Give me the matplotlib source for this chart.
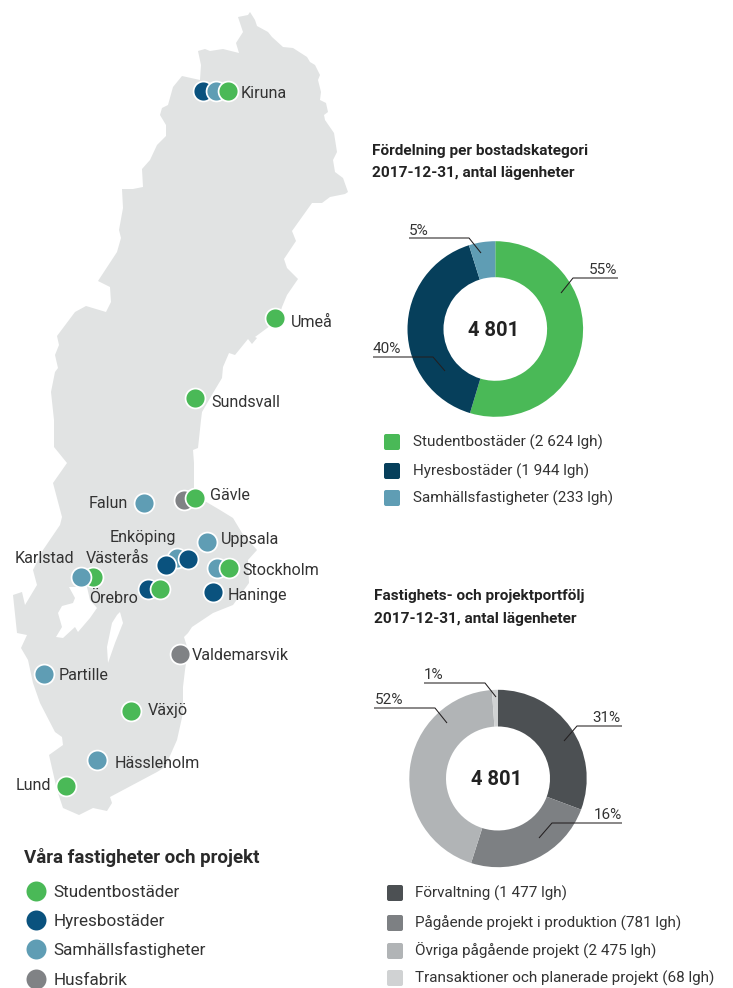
import matplotlib
matplotlib.use('Agg')
import matplotlib.pyplot as plt
from matplotlib.patches import Polygon, FancyBboxPatch

W, H = 733, 988

# ===== DATA =====
# wedge shares as drawn in the picture (second donut is not drawn to its printed labels)
housing_labels = ['Studentbostäder (2 624 lgh)', 'Hyresbostäder (1 944 lgh)', 'Samhällsfastigheter (233 lgh)']
housing_values = [2624, 1944, 233]
housing_pct = ['55%', '40%', '5%']

portfolio_labels = ['Förvaltning (1 477 lgh)', 'Pågående projekt i produktion (781 lgh)',
                    'Övriga pågående projekt (2 475 lgh)', 'Transaktioner och planerade projekt (68 lgh)']
portfolio_shares = [30.7, 24.2, 44.0, 1.1]
portfolio_pct = ['31%', '16%', '52%', '1%']

legend_names = ['Studentbostäder', 'Hyresbostäder', 'Samhällsfastigheter', 'Husfabrik']

# map sites: x, y on the map picture, category index into legend_names
site_x = [203, 216, 228, 275, 195, 184, 195, 144, 207, 217, 229, 177, 166, 188, 93, 81, 148, 160, 213, 180, 44, 131, 97, 66]
site_y = [91, 91, 91, 318, 398, 500, 498, 503, 542, 568, 568, 558, 565, 559, 577, 577, 589, 589, 592, 654, 674, 711, 760, 786]
site_cat = [1, 2, 0, 0, 0, 3, 0, 2, 2, 2, 0, 2, 1, 1, 0, 2, 1, 0, 1, 3, 2, 0, 2, 0]

city_names = ['Kiruna', 'Umeå', 'Sundsvall', 'Gävle', 'Falun', 'Enköping', 'Uppsala', 'Karlstad', 'Västerås',
              'Stockholm', 'Örebro', 'Haninge', 'Valdemarsvik', 'Partille', 'Växjö', 'Hässleholm', 'Lund']
city_x = [241, 291, 211, 210, 89, 110, 221, 15, 86, 242, 89, 228, 192, 59, 148, 115, 16]
city_y = [98, 327, 407, 500, 508, 542, 544, 563, 563, 575, 603, 600, 660, 680, 715, 768, 790]

sweden = [(250, 12), (255, 20), (257, 26), (268, 32), (272, 37), (283, 47), (293, 48), (307, 57), (310, 62),
          (315, 65), (320, 75), (318, 80), (321, 92), (320, 100), (326, 103), (328, 112), (324, 115), (325, 120),
          (334, 133), (337, 152), (333, 160), (335, 172), (343, 178), (348, 192), (345, 194), (330, 197),
          (322, 203), (312, 203), (292, 231), (296, 241), (284, 259), (287, 268), (298, 279), (287, 295),
          (282, 307), (278, 320), (255, 337), (257, 338), (252, 344), (248, 339), (235, 355), (229, 353),
          (223, 367), (222, 378), (213, 393), (202, 412), (201, 420), (198, 448), (193, 450), (194, 463),
          (194, 490), (203, 500), (220, 510), (233, 518), (242, 533), (257, 550), (248, 560), (249, 583),
          (233, 605), (213, 613), (192, 627), (188, 633), (184, 637), (188, 650), (185, 670), (183, 687),
          (183, 713), (177, 740), (165, 767), (157, 772), (110, 797), (112, 803), (107, 811), (93, 808),
          (79, 815), (63, 808), (57, 790), (49, 755), (63, 745), (62, 737), (55, 732), (40, 703), (33, 683),
          (28, 660), (21, 648), (27, 635), (17, 633), (13, 595), (22, 592), (25, 605), (37, 585), (33, 570),
          (43, 550), (60, 525), (62, 517), (53, 483), (67, 463), (54, 447), (54, 420), (51, 392), (55, 372),
          (58, 368), (55, 355), (59, 345), (57, 336), (75, 312), (86, 306), (106, 312), (111, 302), (110, 287),
          (98, 281), (117, 252), (121, 238), (119, 230), (123, 208), (122, 189), (133, 189), (143, 187),
          (142, 169), (150, 160), (157, 145), (166, 136), (166, 125), (160, 115), (162, 108), (168, 105),
          (173, 87), (182, 76), (200, 80), (201, 65), (198, 51), (205, 49), (210, 51), (223, 49), (239, 53),
          (236, 43), (243, 32), (238, 17), (248, 15)]
vanern = [(69, 587), (75, 598), (73, 603), (62, 606), (58, 613), (62, 627), (56, 637), (63, 638), (75, 627),
          (78, 632), (90, 618), (97, 608), (90, 600), (87, 587)]
vattern = [(120, 612), (123, 623), (115, 643), (108, 663), (107, 647), (112, 623), (117, 615)]

# ===== COLOURS =====
map_colors = ['#4ab957', '#0a527e', '#5f9db4', '#808285']
housing_colors = ['#4ab957', '#063f5b', '#5f9db4']
portfolio_colors = ['#4c5053', '#7d8083', '#b1b4b6', '#d0d2d3']
txt = '#333333'

# ===== FIGURE =====
plt.rcParams['font.family'] = ['Roboto', 'DejaVu Sans']
fig = plt.figure(figsize=(W / 100, H / 100), dpi=100, facecolor='white')
ax = fig.add_axes([0, 0, 1, 1], zorder=2)
ax.set_xlim(0, W)
ax.set_ylim(H, 0)
ax.axis('off')
ax.patch.set_alpha(0)


def donut(cx, cy, r, rin, values, colors):
    a = fig.add_axes([(cx - r) / W, 1 - (cy + r) / H, 2 * r / W, 2 * r / H], zorder=1)
    a.pie(values, colors=colors, startangle=90, counterclock=False, radius=1,
          wedgeprops=dict(width=1 - rin / r, linewidth=0, clip_on=False))
    a.set_xlim(-1, 1)
    a.set_ylim(-1, 1)


def swatch(x, y, color):
    ax.add_patch(FancyBboxPatch((x + 2, y - 6), 12, 12, boxstyle='round,pad=2,rounding_size=2',
                                fc=color, ec='none'))


def leader(pts):
    ax.plot([p[0] for p in pts], [p[1] for p in pts], color='#231f20', lw=0.75, zorder=6,
            solid_capstyle='butt', solid_joinstyle='miter')


# ===== MAP =====
ax.add_patch(Polygon(sweden, closed=True, fc='#e1e3e3', ec='none', zorder=1))
ax.add_patch(Polygon(vanern, closed=True, fc='white', ec='none', zorder=1))
ax.add_patch(Polygon(vattern, closed=True, fc='white', ec='none', zorder=1))
for i, (x, y, c) in enumerate(zip(site_x, site_y, site_cat)):
    ax.scatter(x, y, s=205, color=map_colors[c], edgecolors='white', linewidths=1.25, zorder=3 + i * 0.01)
for name, x, y in zip(city_names, city_x, city_y):
    ax.text(x, y, name, fontsize=11.6, color=txt, va='baseline', zorder=5)

# ===== MAP LEGEND =====
ax.text(24, 863, 'Våra fastigheter och projekt', fontsize=13.5, fontweight='bold', color='#2a2a2a', va='baseline')
for name, color, y in zip(legend_names, map_colors, [891, 920, 949, 979]):
    ax.scatter(36, y, s=207, color=color, linewidths=0, zorder=3, clip_on=False)
    ax.text(53.5, y + 6, name, fontsize=12.3, color=txt, va='baseline')

# ===== DONUT 1 =====
for line, y in zip(['Fördelning per bostadskategori', '2017-12-31, antal lägenheter'], [155, 177]):
    ax.text(372, y, line, fontsize=11.1, fontweight='bold', color='#222222', va='baseline')
donut(495.3, 329, 87.8, 51.8, housing_values, housing_colors)
ax.text(494, 336, '4 801', fontsize=14.5, fontweight='bold', color='#222222', ha='center', va='baseline')
leader([(618, 278), (573, 278), (561, 293)])
leader([(409, 238), (469, 238), (481, 253)])
leader([(373, 357), (433, 357), (445, 371)])
ax.text(617, 274, housing_pct[0], fontsize=11, color=txt, ha='right', va='baseline')
ax.text(409, 235, housing_pct[2], fontsize=11, color=txt, va='baseline')
ax.text(373, 353, housing_pct[1], fontsize=11, color=txt, va='baseline')
for label, color, y in zip(housing_labels, housing_colors, [442, 471, 498]):
    swatch(384, y, color)
    ax.text(413, y + 5, label, fontsize=11, color=txt, va='baseline')

# ===== DONUT 2 =====
for line, y in zip(['Fastighets- och projektportfölj', '2017-12-31, antal lägenheter'], [600, 623]):
    ax.text(374, y, line, fontsize=11.1, fontweight='bold', color='#222222', va='baseline')
donut(498, 778.5, 88.7, 52, portfolio_shares, portfolio_colors)
ax.text(497, 785, '4 801', fontsize=14.5, fontweight='bold', color='#222222', ha='center', va='baseline')
leader([(622, 726), (577, 726), (564, 741)])
leader([(622, 823), (552, 823), (539, 838)])
leader([(374, 708), (435, 708), (447, 723)])
leader([(424, 683), (485, 683), (496, 697)])
ax.text(620, 722, portfolio_pct[0], fontsize=11, color=txt, ha='right', va='baseline')
ax.text(622, 819, portfolio_pct[1], fontsize=11, color=txt, ha='right', va='baseline')
ax.text(375, 704, portfolio_pct[2], fontsize=11, color=txt, va='baseline')
ax.text(424, 679, portfolio_pct[3], fontsize=11, color=txt, va='baseline')
for label, color, y in zip(portfolio_labels, portfolio_colors, [893, 923, 951, 978]):
    swatch(387, y, color)
    ax.text(415, y + 5, label, fontsize=11, color=txt, va='baseline')

fig.savefig('out.png', dpi=100, facecolor='white')
